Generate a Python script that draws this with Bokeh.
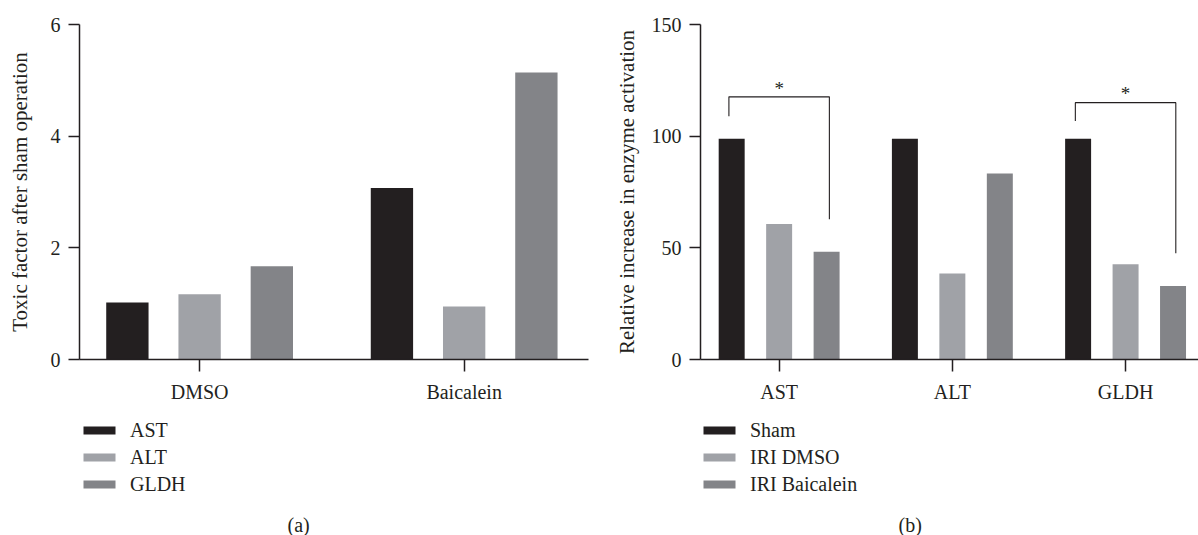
import numpy as np
from bokeh.plotting import figure
from bokeh.layouts import row, column
from bokeh.models import Range1d, FixedTicker, Legend, LegendItem, Label
from bokeh.core.properties import value
from bokeh.embed import file_html
from bokeh.resources import INLINE

# ---------------- data ----------------
groups_a = ["DMSO", "Baicalein"]
series_a = ["AST", "ALT", "GLDH"]
ast_a = [1.02, 3.07]
alt_a = [1.17, 0.95]
gldh_a = [1.67, 5.14]
yticks_a = [0, 2, 4, 6]

groups_b = ["AST", "ALT", "GLDH"]
series_b = ["Sham", "IRI DMSO", "IRI Baicalein"]
sham_b = [98.8, 98.8, 98.8]
iri_dmso_b = [60.7, 38.5, 42.6]
iri_baic_b = [48.2, 83.3, 32.9]
yticks_b = [0, 50, 100, 150]

# significance brackets (group index, top, left end, right end)
br_group = [0, 2]
br_top = [117.6, 115.0]
br_left_end = [108.9, 106.8]
br_right_end = [62.8, 47.6]
br_star_y = [121.3, 119.0]

# ---------------- style ----------------
FONT = "Liberation Serif"
INK = "#231f20"
COLORS = ["#231f20", "#a0a2a7", "#838488"]
FS = "20px"
FS_AX = "21px"


def style(p, ylabel, yticks, groups, label_standoff):
    p.xgrid.visible = False
    p.ygrid.visible = False
    p.outline_line_color = None
    for ax in (p.xaxis[0], p.yaxis[0]):
        ax.axis_line_color = INK
        ax.axis_line_width = 1.5
        ax.major_tick_line_color = INK
        ax.major_tick_line_width = 1.5
        ax.minor_tick_line_color = None
        ax.major_tick_in = 0
        ax.major_label_text_font = FONT
        ax.major_label_text_font_size = FS
        ax.major_label_text_color = INK
        ax.axis_label_text_font = FONT
        ax.axis_label_text_font_size = FS_AX
        ax.axis_label_text_font_style = "normal"
        ax.axis_label_text_color = INK
    p.yaxis[0].ticker = FixedTicker(ticks=yticks)
    p.yaxis[0].major_tick_out = 11
    p.yaxis[0].major_label_standoff = 8
    p.yaxis[0].axis_label = ylabel
    p.yaxis[0].axis_label_standoff = label_standoff
    p.xaxis[0].ticker = FixedTicker(ticks=list(range(len(groups))))
    p.xaxis[0].major_label_overrides = {i: g for i, g in enumerate(groups)}
    p.xaxis[0].major_tick_out = 12
    p.xaxis[0].major_label_standoff = 9


def make_panel(width, border_left, border_right, xr, yr, groups, series, values,
               offset, bar_w, ylabel, yticks, label_standoff,
               panel_label, plabel_x, legend_x):
    p = figure(width=width, height=405, x_range=Range1d(*xr), y_range=Range1d(*yr),
               output_backend="svg", toolbar_location=None,
               min_border_left=border_left, min_border_right=border_right,
               min_border_top=24, min_border_bottom=45)
    style(p, ylabel, yticks, groups, label_standoff)

    # companion strip under the chart that carries the legend and panel label
    q = figure(width=width, height=130, x_range=Range1d(0, 1), y_range=Range1d(0, 1),
               output_backend="svg", toolbar_location=None,
               x_axis_type=None, y_axis_type=None, min_border=0)
    q.xgrid.visible = False
    q.ygrid.visible = False
    q.outline_line_color = None

    base = np.arange(len(groups))
    items = []
    for k, (name, vals) in enumerate(zip(series, values)):
        x = base + (k - 1) * offset
        p.vbar(x=x, top=vals, width=bar_w, bottom=0,
               fill_color=COLORS[k], line_color=None)
        r = q.vbar(x=x, top=vals, width=bar_w, bottom=0,
                   fill_color=COLORS[k], line_color=None, visible=False)
        items.append(LegendItem(label=name, renderers=[r]))
    leg = Legend(items=items, location=(legend_x, 39), orientation="vertical",
                 glyph_width=40, glyph_height=10, label_height=24, spacing=3,
                 label_standoff=11, padding=0, margin=0,
                 border_line_color=None, background_fill_alpha=0,
                 label_text_font=FONT, label_text_font_size=FS,
                 label_text_color=INK)
    q.add_layout(leg, "center")
    q.add_layout(Label(x=plabel_x, y=11, x_units="screen", y_units="screen",
                       text=panel_label, text_align="left", text_baseline="middle",
                       text_font=FONT, text_font_size=FS, text_color=INK))
    return p, q


pa, qa = make_panel(600, 79, 12, (-0.454, 1.470), (0, 6), groups_a, series_a,
                    [ast_a, alt_a, gldh_a], 0.273, 0.16,
                    "Toxic factor after sham operation", yticks_a, 16, "(a)", 287, 79)

pb, qb = make_panel(598, 100, 0, (-0.454, 2.421), (0, 150), groups_b, series_b,
                    [sham_b, iri_dmso_b, iri_baic_b], 0.274, 0.15,
                    "Relative increase in enzyme activation", yticks_b, 10, "(b)", 298, 99)

# significance brackets on panel b
off_b = 0.29
xs, ys = [], []
for g, t, le, re in zip(br_group, br_top, br_left_end, br_right_end):
    xs.append([g - off_b, g - off_b, g + off_b, g + off_b])
    ys.append([le, t, t, re])
pb.multi_line(xs=xs, ys=ys, line_color=INK, line_width=1.1)
pb.text(x=[float(g) for g in br_group], y=br_star_y, text=["*"] * len(br_group),
        text_align="center", text_baseline="middle", text_font=value(FONT),
        text_font_size="19px", text_color=INK)

layout = column(row(pa, pb), row(qa, qb))
open("out.html", "w").write(file_html(layout, INLINE))
